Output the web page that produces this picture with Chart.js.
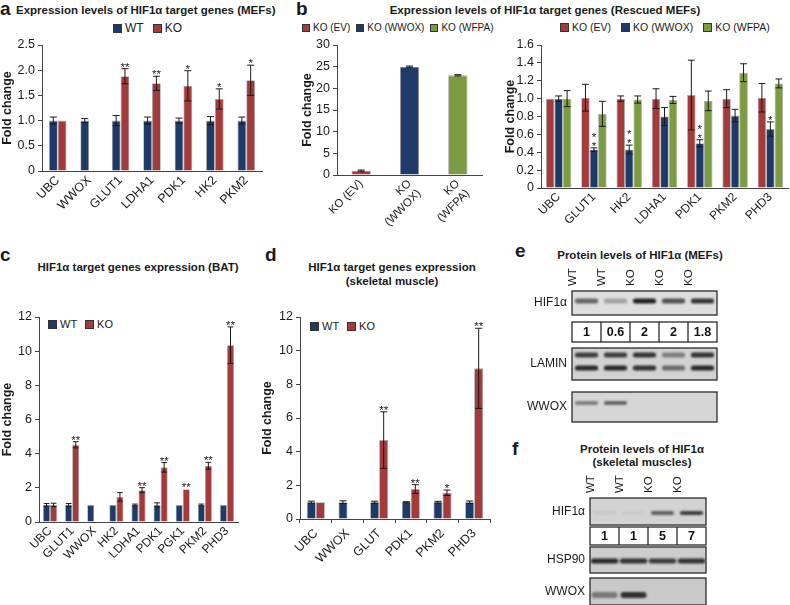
<!DOCTYPE html>
<html>
<head>
<meta charset="utf-8">
<script src="https://cdn.jsdelivr.net/npm/chart.js@4.4.1/dist/chart.umd.min.js"></script>
<style>
  body { margin: 0; background: #fff; }
  #fig { position: relative; width: 790px; height: 605px; overflow: hidden;
         font-family: "Liberation Sans", Arial, sans-serif; color: #1a1a1a; }
  .abs { position: absolute; white-space: nowrap; }
  .letter { font-weight: bold; font-size: 19px; line-height: 1; }
  .title { font-weight: bold; font-size: 11.5px; line-height: 14px; text-align: center; }
  .legend { display: flex; align-items: center; }
  .legend .sw { display: inline-block; box-sizing: border-box; border: 1px solid #333; margin-right: 3px; }
  canvas { position: absolute; }
</style>
</head>
<body>
<div id="fig">
  <div class="abs letter" style="left:0;top:-1px">a</div>
  <div class="abs title" style="left:16px;top:3px;text-align:left">Expression levels of HIF1α target genes (MEFs)</div>
  <div class="abs letter" style="left:296px;top:-1px">b</div>
  <div class="abs title" style="left:385px;top:3px;width:320px">Expression levels of HIF1α target genes (Rescued MEFs)</div>
  <div class="abs letter" style="left:0;top:245px">c</div>
  <div class="abs title" style="left:18px;top:260px;width:240px">HIF1α target genes expression (BAT)</div>
  <div class="abs letter" style="left:265px;top:245px">d</div>
  <div class="abs title" style="left:272px;top:260px;width:240px">HIF1α target genes expression<br>(skeletal muscle)</div>
  <div class="abs letter" style="left:515px;top:241px">e</div>
  <div class="abs title" style="left:540px;top:248px;width:200px">Protein levels of HIF1α (MEFs)</div>
  <div class="abs letter" style="left:512px;top:439px">f</div>
  <div class="abs title" style="left:542px;top:443px;width:200px;line-height:13px">Protein levels of HIF1α<br>(skeletal muscles)</div>

  <div id="legA" class="abs legend" style="left:113px;top:21px;font-size:12px"></div>
  <div id="legBL" class="abs legend" style="left:302px;top:22px;font-size:10px"></div>
  <div id="legBR" class="abs legend" style="left:560px;top:21px;font-size:10.5px"></div>
  <div id="legC" class="abs legend" style="left:48px;top:318px;font-size:11px"></div>
  <div id="legD" class="abs legend" style="left:310px;top:320px;font-size:11px"></div>

  <canvas id="chartA" width="270" height="185" style="left:0;top:35px"></canvas>
  <canvas id="chartBL" width="190" height="205" style="left:300px;top:35px"></canvas>
  <canvas id="chartBR" width="287" height="195" style="left:503px;top:35px"></canvas>
  <canvas id="chartC" width="245" height="265" style="left:0;top:305px"></canvas>
  <canvas id="chartD" width="240" height="265" style="left:260px;top:305px"></canvas>
  <canvas id="blotE" width="200" height="165" style="left:520px;top:262px"></canvas>
  <canvas id="blotF" width="180" height="135" style="left:530px;top:470px"></canvas>
</div>

<script>
Chart.defaults.font.family = '"Liberation Sans", Arial, sans-serif';

const NAVY = "#1e3a69";
const RED = "#a33b3c";
const GREEN = "#7c9c41";

// ---- panel a: MEFs
const aGenes = ["UBC", "WWOX", "GLUT1", "LDHA1", "PDK1", "HK2", "PKM2"];
const aWT = [1, 1, 1, 1, 1, 1, 1];
const aWTErr = [0.07, 0.04, 0.1, 0.07, 0.05, 0.08, 0.07];
const aKO = [1, null, 1.88, 1.74, 1.69, 1.43, 1.8];
const aKOErr = [0, 0, 0.15, 0.14, 0.3, 0.2, 0.3];
const aStars = ["", "", "**", "**", "*", "*", "*"];
const aTicks = [0, 0.5, 1, 1.5, 2, 2.5];

// ---- panel b: rescued MEFs
const bSeries = ["KO (EV)", "KO (WWOX)", "KO (WFPA)"];
const bLeftLabels = ["KO (EV)", ["KO", "(WWOX)"], ["KO", "(WFPA)"]];
const bLeftValues = [1, 25, 23];
const bLeftErr = [0.15, 0.15, 0.15];
const bLeftTicks = [0, 5, 10, 15, 20, 25, 30];

const bGenes = ["UBC", "GLUT1", "HK2", "LDHA1", "PDK1", "PKM2", "PHD3"];
const bEV = [1, 1.01, 1.0, 1.0, 1.04, 1.0, 1.01];
const bEVErr = [0, 0.15, 0.03, 0.11, 0.39, 0.1, 0.16];
const bWWOX = [1, 0.43, 0.43, 0.8, 0.5, 0.81, 0.66];
const bWWOXErr = [0.03, 0.02, 0.05, 0.1, 0.04, 0.07, 0.08];
const bWWOXStars = ["", "*\n*", "*\n*", "", "*\n*", "", "*"];
const bWFPA = [1, 0.83, 0.99, 0.985, 0.975, 1.29, 1.17];
const bWFPAErr = [0.09, 0.14, 0.04, 0.04, 0.11, 0.1, 0.05];
const bRightTicks = [0, 0.2, 0.4, 0.6, 0.8, 1, 1.2, 1.4, 1.6];

// ---- panel c: BAT
const cGenes = ["UBC", "GLUT1", "WWOX", "HK2", "LDHA1", "PDK1", "PGK1", "PKM2", "PHD3"];
const cWT = [1, 1, 1, 1, 1, 1, 1, 1, 1];
const cWTErr = [0.08, 0.08, 0, 0, 0.05, 0.12, 0, 0.05, 0];
const cKO = [1, 4.52, null, 1.47, 1.86, 3.2, 1.92, 3.29, 10.35];
const cKOErr = [0.1, 0.18, 0, 0.25, 0.15, 0.28, 0, 0.2, 1.07];
const cStars = ["", "**", "", "", "**", "**", "**", "**", "**"];
const cdTicks = [0, 2, 4, 6, 8, 10, 12];

// ---- panel d: skeletal muscle
const dGenes = ["UBC", "WWOX", "GLUT", "PDK1", "PKM2", "PHD3"];
const dWT = [1, 1, 1, 1, 1, 1];
const dWTErr = [0.06, 0.08, 0.06, 0.03, 0.05, 0.07];
const dKO = [1, null, 4.69, 1.78, 1.56, 8.95];
const dKOErr = [0, 0, 1.68, 0.26, 0.16, 2.38];
const dStars = ["", "", "**", "**", "*", "**"];

// ---- panel e: blot MEFs (band darkness per lane)
const eLanes = ["WT", "WT", "KO", "KO", "KO"];
const eRatios = ["1", "0.6", "2", "2", "1.8"];
const eHif = [0.6, 0.3, 0.95, 0.7, 0.85];
const eLaminUpper = [0.8, 0.8, 0.85, 0.45, 0.85];
const eLaminLower = [0.9, 0.9, 0.85, 0.55, 0.9];
const eWwox = [0.5, 0.65, 0, 0, 0];

// ---- panel f: blot skeletal muscles
const fLanes = ["WT", "WT", "KO", "KO"];
const fRatios = ["1", "1", "5", "7"];
const fHif = [0.05, 0.04, 0.6, 0.8];
const fHsp90 = [0.9, 0.85, 0.8, 0.85];
const fWwox = [0.45, 0.85, 0, 0];

function legend(id, items, sw, gap) {
  const el = document.getElementById(id);
  items.forEach((it, i) => {
    const box = document.createElement("span");
    box.className = "sw";
    box.style.width = sw + "px";
    box.style.height = sw + "px";
    box.style.background = it.color;
    const txt = document.createElement("span");
    txt.textContent = it.label;
    if (i < items.length - 1) txt.style.marginRight = gap + "px";
    el.appendChild(box);
    el.appendChild(txt);
  });
}

const errorBars = {
  id: "errorBars",
  afterDatasetsDraw(chart) {
    const ctx = chart.ctx;
    const y = chart.scales.y;
    chart.data.datasets.forEach((ds, di) => {
      if (!ds.errors) return;
      const meta = chart.getDatasetMeta(di);
      meta.data.forEach((bar, i) => {
        const v = ds.data[i];
        if (v == null) return;
        const e = ds.errors[i] || 0;
        const top = y.getPixelForValue(v + e);
        const bot = y.getPixelForValue(v - e);
        const half = Math.min(3.5, bar.width * 0.4);
        ctx.save();
        ctx.strokeStyle = "#1a1a1a";
        ctx.lineWidth = 1;
        if (e > 0) {
          ctx.beginPath();
          ctx.moveTo(bar.x, top); ctx.lineTo(bar.x, bot);
          ctx.moveTo(bar.x - half, top); ctx.lineTo(bar.x + half, top);
          ctx.moveTo(bar.x - half, bot); ctx.lineTo(bar.x + half, bot);
          ctx.stroke();
        }
        const s = ds.stars && ds.stars[i];
        if (s) {
          ctx.fillStyle = "#1a1a1a";
          ctx.font = "11.5px 'Liberation Sans', Arial, sans-serif";
          ctx.textAlign = "center";
          ctx.textBaseline = "alphabetic";
          const lines = s.split("\n");
          lines.forEach((ln, k) => {
            const yy = Math.min(top, y.getPixelForValue(v)) + 2 - (lines.length - 1 - k) * 9;
            ctx.fillText(ln, bar.x, yy);
          });
        }
        ctx.restore();
      });
    });
  },
};

function barChart(id, o) {
  return new Chart(document.getElementById(id), {
    type: "bar",
    data: { labels: o.labels, datasets: o.datasets },
    options: {
      responsive: false,
      animation: false,
      layout: { padding: o.pad },
      plugins: { legend: { display: false }, tooltip: { enabled: false } },
      datasets: { bar: { categoryPercentage: o.cat, barPercentage: o.bar || 1 } },
      scales: {
        x: {
          grid: { drawOnChartArea: false, drawTicks: !!o.xTickMarks, tickLength: 4, color: "#444" },
          border: { color: "#444" },
          ticks: { minRotation: 45, maxRotation: 45, autoSkip: false, padding: o.xPad || 2,
                   color: "#1a1a1a", font: { size: o.xFont } },
          afterFit(s) { s.height = o.xHeight; s.paddingLeft = 0; s.paddingRight = 0; },
        },
        y: {
          min: o.yTicks[0],
          max: o.yTicks[o.yTicks.length - 1],
          ticks: { stepSize: o.yTicks[1] - o.yTicks[0], autoSkip: false, color: "#1a1a1a",
                   padding: 3, font: { size: o.yFont } },
          grid: { drawOnChartArea: false, tickLength: 4, color: "#444" },
          border: { color: "#444" },
          title: { display: true, text: "Fold change", color: "#1a1a1a", padding: 0,
                   font: { size: 12.5, weight: "bold" } },
          afterFit(s) { s.width = o.yWidth; s.paddingTop = 0; s.paddingBottom = 0; },
        },
      },
    },
    plugins: [errorBars],
  });
}

function series(label, data, errors, color, stars) {
  return { label, data, errors, stars, backgroundColor: color,
           borderColor: "rgba(0,0,0,0.35)", borderWidth: 0.8 };
}

// legends
legend("legA", [{ label: "WT", color: NAVY }, { label: "KO", color: RED }], 9, 9);
legend("legBL", bSeries.map((s, i) => ({ label: s, color: [RED, NAVY, GREEN][i] })), 8, 6);
legend("legBR", bSeries.map((s, i) => ({ label: s, color: [RED, NAVY, GREEN][i] })), 9, 10);
legend("legC", [{ label: "WT", color: NAVY }, { label: "KO", color: RED }], 9, 8);
legend("legD", [{ label: "WT", color: NAVY }, { label: "KO", color: RED }], 9, 8);

barChart("chartA", {
  labels: aGenes,
  datasets: [series("WT", aWT, aWTErr, NAVY), series("KO", aKO, aKOErr, RED, aStars)],
  yTicks: aTicks, yWidth: 42, xHeight: 49, pad: { left: 0, top: 10, right: 8, bottom: 0 },
  cat: 0.56, yFont: 12.5, xFont: 12.5,
});

barChart("chartBL", {
  labels: bLeftLabels,
  datasets: [{ label: "Fold change", data: bLeftValues, errors: bLeftErr,
               backgroundColor: [RED, NAVY, GREEN], borderColor: "rgba(0,0,0,0.35)", borderWidth: 0.8 }],
  yTicks: bLeftTicks, yWidth: 37, xHeight: 65, pad: { left: 0, top: 10, right: 8, bottom: 0 },
  cat: 1, bar: 0.4, yFont: 12.5, xFont: 11.5,
});

barChart("chartBR", {
  labels: bGenes,
  datasets: [
    series(bSeries[0], bEV, bEVErr, RED),
    series(bSeries[1], bWWOX, bWWOXErr, NAVY, bWWOXStars),
    series(bSeries[2], bWFPA, bWFPAErr, GREEN),
  ],
  yTicks: bRightTicks, yWidth: 38, xHeight: 42, pad: { left: 0, top: 10, right: 2, bottom: 0 },
  cat: 0.72, yFont: 12.5, xFont: 12,
});

barChart("chartC", {
  labels: cGenes,
  datasets: [series("WT", cWT, cWTErr, NAVY), series("KO", cKO, cKOErr, RED, cStars)],
  yTicks: cdTicks, yWidth: 39, xHeight: 48, pad: { left: 0, top: 12, right: 7, bottom: 0 },
  cat: 0.64, yFont: 12.5, xFont: 12,
});

barChart("chartD", {
  labels: dGenes,
  datasets: [series("WT", dWT, dWTErr, NAVY), series("KO", dKO, dKOErr, RED, dStars)],
  yTicks: cdTicks, yWidth: 40, xHeight: 51, pad: { left: 0, top: 12, right: 10, bottom: 0 },
  cat: 0.57, yFont: 12.5, xFont: 12.5, xTickMarks: true, xPad: 3,
});

// ---- western blots: lanes on a category axis, rows on a reversed linear axis
const blotBoxes = {
  id: "blotBoxes",
  beforeDatasetsDraw(chart) {
    const { ctx, chartArea, scales: { y } } = chart;
    chart.options.rowsLayout.forEach((r) => {
      const y0 = y.getPixelForValue(r.top), y1 = y.getPixelForValue(r.bottom);
      ctx.fillStyle = r.quant ? "#fff" : r.fill;
      ctx.fillRect(chartArea.left, y0, chartArea.right - chartArea.left, y1 - y0);
    });
  },
  beforeDatasetDraw(chart) {
    chart.ctx.save();
    chart.ctx.filter = "blur(1.3px)";
  },
  afterDatasetDraw(chart) {
    chart.ctx.restore();
  },
  afterDatasetsDraw(chart) {
    const { ctx, chartArea, scales: { x, y } } = chart;
    const n = chart.data.labels.length;
    chart.options.rowsLayout.forEach((r) => {
      const y0 = y.getPixelForValue(r.top), y1 = y.getPixelForValue(r.bottom);
      ctx.save();
      ctx.strokeStyle = "#2a2a2a";
      ctx.lineWidth = 1.3;
      ctx.strokeRect(chartArea.left, y0, chartArea.right - chartArea.left, y1 - y0);
      if (r.quant) {
        ctx.beginPath();
        for (let i = 0; i < n - 1; i++) {
          const xb = (x.getPixelForValue(i) + x.getPixelForValue(i + 1)) / 2;
          ctx.moveTo(xb, y0); ctx.lineTo(xb, y1);
        }
        ctx.stroke();
        ctx.fillStyle = "#111";
        ctx.font = "bold 12.5px 'Liberation Sans', Arial, sans-serif";
        ctx.textAlign = "center";
        ctx.textBaseline = "middle";
        r.values.forEach((t, i) => ctx.fillText(t, x.getPixelForValue(i), (y0 + y1) / 2 + 1));
      }
      ctx.restore();
    });
  },
};

function blotChart(id, lanes, rows, yMax, yWidth, xHeight, pad) {
  const labelled = rows.filter((r) => r.label);
  const datasets = [];
  rows.forEach((r) => (r.bands || []).forEach((b) => {
    datasets.push({
      data: lanes.map((_, i) => (b.v[i] > 0 ? [b.c - b.h / 2, b.c + b.h / 2] : null)),
      backgroundColor: b.v.map((a) => "rgba(22,22,22," + a + ")"),
      barPercentage: b.w || 0.8, categoryPercentage: 1, grouped: false,
      borderRadius: 3, borderSkipped: false,
    });
  }));
  return new Chart(document.getElementById(id), {
    type: "bar",
    data: { labels: lanes, datasets },
    options: {
      responsive: false,
      animation: false,
      rowsLayout: rows,
      layout: { padding: pad },
      plugins: { legend: { display: false }, tooltip: { enabled: false } },
      scales: {
        x: {
          position: "top",
          grid: { display: false, drawTicks: false },
          border: { display: false },
          ticks: { minRotation: 90, maxRotation: 90, padding: 5, color: "#1a1a1a", font: { size: 11.5 } },
          afterFit(s) { s.height = xHeight; s.paddingLeft = 0; s.paddingRight = 0; },
        },
        y: {
          min: 0, max: yMax, reverse: true,
          grid: { display: false, drawTicks: false },
          border: { display: false },
          afterBuildTicks(s) { s.ticks = labelled.map((r) => ({ value: (r.top + r.bottom) / 2 })); },
          ticks: { autoSkip: false, padding: 5, color: "#1a1a1a", font: { size: 12 },
                   callback: (v, i) => labelled[i] && labelled[i].label },
          afterFit(s) { s.width = yWidth; s.paddingTop = 0; s.paddingBottom = 0; },
        },
      },
    },
    plugins: [blotBoxes],
  });
}

blotChart("blotE", eLanes, [
  { label: "HIF1α", top: 0, bottom: 24, fill: "#dedede", bands: [{ c: 10, h: 5, v: eHif }] },
  { quant: true, top: 31, bottom: 51, values: eRatios },
  { label: "LAMIN", top: 57, bottom: 89, fill: "#d2d2d2",
    bands: [{ c: 64, h: 5, v: eLaminUpper }, { c: 77, h: 5, v: eLaminLower }] },
  { label: "WWOX", top: 101, bottom: 131, fill: "#d6d6d6", bands: [{ c: 112, h: 3.5, v: eWwox }] },
], 131, 52, 27, { left: 0, top: 2, right: 3, bottom: 5 });

blotChart("blotF", fLanes, [
  { label: "HIF1α", top: 0, bottom: 27, fill: "#d3d3d3", bands: [{ c: 15, h: 4, v: fHif }] },
  { quant: true, top: 29, bottom: 47, values: fRatios },
  { label: "HSP90", top: 49, bottom: 75, fill: "#cdcdcd", bands: [{ c: 63, h: 5, v: fHsp90, w: 0.95 }] },
  { label: "WWOX", top: 80, bottom: 107, fill: "#c9c9c9", bands: [{ c: 97, h: 6, v: fWwox, w: 0.9 }] },
], 107, 60, 26, { left: 0, top: 2, right: 4, bottom: 0 });
</script>
</body>
</html>
